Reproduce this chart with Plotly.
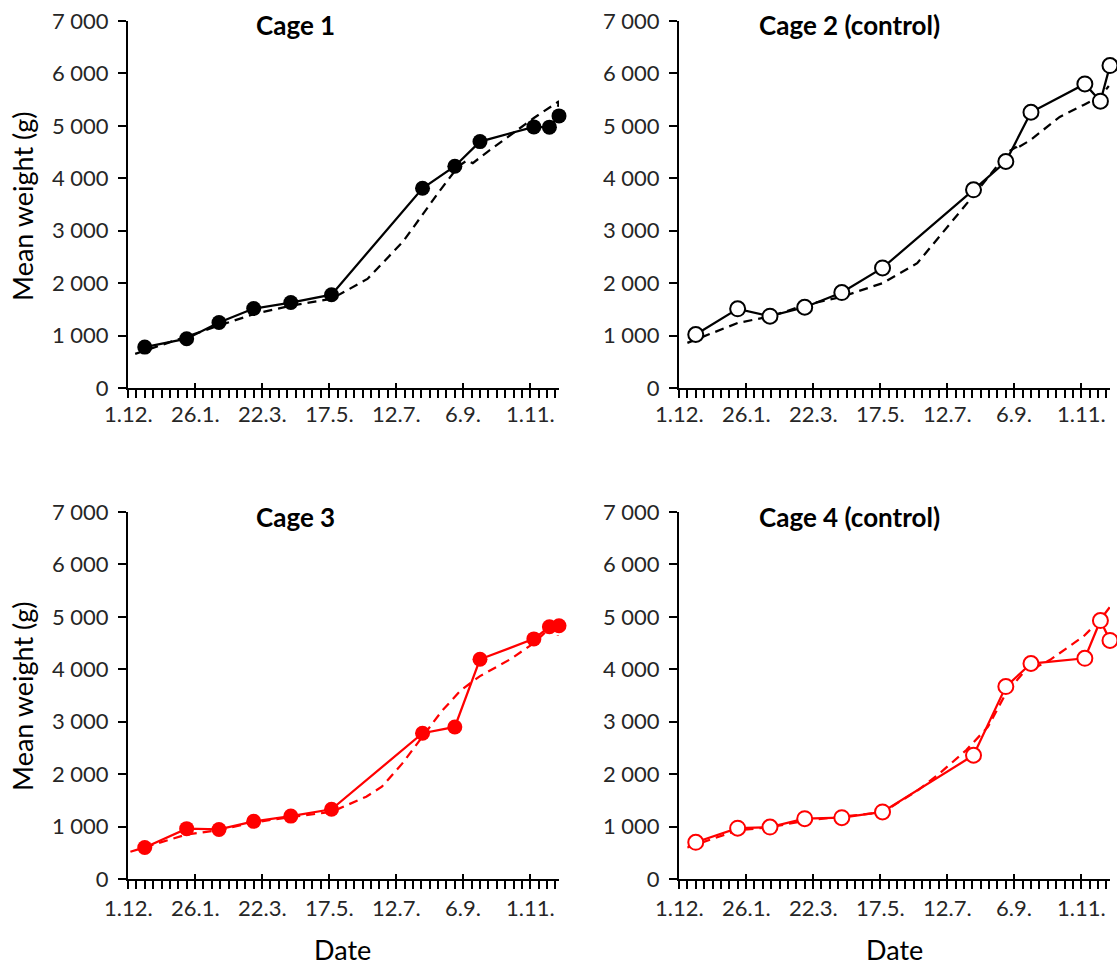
import pandas as pd
import plotly.graph_objects as go

# ---------------- data ----------------
START = "2011-12-01"
tick_days = [0, 56, 112, 168, 224, 280, 336]
tick_text = ["1.12.", "26.1.", "22.3.", "17.5.", "12.7.", "6.9.", "1.11."]
end_day = 360

# measurement days (days after 1.12.)
meas_days = [14, 49, 76, 105, 136, 170, 246, 273, 294, 339, 352, 360]

cage1 = [780, 940, 1250, 1515, 1630, 1780, 3810, 4230, 4700, 4980, 4975, 5190]
cage2 = [1020, 1510, 1370, 1540, 1820, 2290, 3780, 4320, 5260, 5800, 5470, 6150]
cage3 = [600, 960, 945, 1100, 1200, 1330, 2780, 2900, 4190, 4580, 4810, 4830]
cage4 = [700, 970, 990, 1150, 1170, 1280, 2360, 3670, 4110, 4210, 4930, 4550]

# fitted (dashed) curves
fit1_days = [6, 49, 76, 105, 136, 170, 200, 230, 260, 276, 283, 288, 300, 339, 355, 360, 359]
fit1_vals = [650, 990, 1190, 1410, 1570, 1700, 2080, 2800, 3750, 4230, 4340, 4290, 4500, 5150, 5400, 5470, 5350]

fit2_days = [7, 49, 77, 105, 136, 170, 199, 220, 247, 268, 276, 282, 281, 293, 318, 338, 352, 359]
fit2_vals = [860, 1240, 1370, 1580, 1740, 2000, 2380, 2950, 3700, 4300, 4520, 4600, 4560, 4720, 5170, 5400, 5560, 5760]

fit3_days = [2, 49, 76, 105, 136, 170, 199, 212, 229, 246, 262, 278, 294, 320, 339, 352, 360, 359]
fit3_vals = [520, 850, 930, 1080, 1180, 1280, 1570, 1760, 2200, 2720, 3200, 3600, 3870, 4200, 4500, 4780, 4740, 4640]

fit4_days = [7, 49, 77, 105, 136, 170, 200, 217, 240, 258, 273, 290, 296, 294, 310, 338, 352, 360, 361]
fit4_vals = [600, 930, 990, 1110, 1190, 1270, 1700, 2000, 2460, 2900, 3540, 4000, 4060, 3990, 4180, 4630, 4950, 5210, 5220]

titles = ["Cage 1", "Cage 2 (control)", "Cage 3", "Cage 4 (control)"]

# ---------------- helpers ----------------
t0 = pd.Timestamp(START)
def to_dates(days):
    return [(t0 + pd.Timedelta(days=d)).strftime("%Y-%m-%d") for d in days]

W, H = 1117, 966
FONT = "Lato"
TXT = "#262626"

# plot areas in pixels: (left, right, top(7000), bottom(0))
areas = [
    (128, 559, 21, 388),
    (679, 1110, 21, 388),
    (128, 559, 512, 879),
    (679, 1110, 512, 879),
]
# vertical pixel centre of the x tick labels for each panel
xlabel_y = [413, 413, 907, 907]

series = [
    (cage1, fit1_days, fit1_vals, "black", True),
    (cage2, fit2_days, fit2_vals, "black", False),
    (cage3, fit3_days, fit3_vals, "red", True),
    (cage4, fit4_days, fit4_vals, "red", False),
]

fig = go.Figure()
layout = dict(
    width=W, height=H, margin=dict(l=0, r=0, t=0, b=0, autoexpand=False),
    paper_bgcolor="white", plot_bgcolor="white", showlegend=False,
    font=dict(family=FONT, size=22, color=TXT),
)

tickvals = to_dates(tick_days)
rng = [START, to_dates([end_day])[0]]
annos = []

for i, ((l, r, t, b), (vals, fd, fv, col, filled)) in enumerate(zip(areas, series)):
    n = i + 1
    xa = "x" if n == 1 else f"x{n}"
    ya = "y" if n == 1 else f"y{n}"
    xdom = [l / W, r / W]
    ydom = [1 - b / H, 1 - t / H]
    layout[f"xaxis{'' if n == 1 else n}"] = dict(
        domain=xdom, anchor=ya, type="date", range=rng, automargin=False,
        tickmode="array", tickvals=tickvals, showticklabels=False,
        ticks="outside", ticklen=8, tickwidth=2, tickcolor="black",
        showline=True, linecolor="black", linewidth=2,
        showgrid=False, zeroline=False,
        minor=dict(tickmode="linear", tick0=START, dtick=7 * 86400000,
                   ticks="outside", ticklen=8, tickwidth=2, tickcolor="black",
                   showgrid=False),
    )
    layout[f"yaxis{'' if n == 1 else n}"] = dict(
        domain=ydom, anchor=xa, range=[0, 7000], automargin=False,
        tickmode="array", tickvals=list(range(0, 7001, 1000)),
        ticktext=["0"] + [f"{v // 1000} 000" for v in range(1000, 7001, 1000)],
        ticks="outside", ticklen=8, tickwidth=2, tickcolor="black",
        showline=True, linecolor="black", linewidth=2,
        showgrid=False, zeroline=False, ticklabelstandoff=5,
        tickfont=dict(family=FONT, size=22, color=TXT),
    )
    # overlay axis for the inner part of major x ticks
    ov = 10 + n
    layout[f"xaxis{ov}"] = dict(
        domain=xdom, anchor=ya, overlaying=xa, type="date", range=rng, automargin=False,
        tickmode="array", tickvals=tickvals, showticklabels=False,
        ticks="inside", ticklen=5, tickwidth=2, tickcolor="black",
        showline=False, showgrid=False, zeroline=False,
    )
    fig.add_trace(go.Scatter(x=[tickvals[0]], y=[0], xaxis=f"x{ov}", yaxis=ya,
                             mode="markers", marker=dict(opacity=0), hoverinfo="skip"))

    # x tick labels
    for tv, tt in zip(tickvals, tick_text):
        annos.append(dict(text=tt, x=tv, y=1 - xlabel_y[i] / H, xref=xa, yref="paper",
                          showarrow=False, xanchor="center", yanchor="middle",
                          font=dict(family=FONT, size=22, color=TXT)))

    fig.add_trace(go.Scatter(
        x=to_dates(fd), y=fv, xaxis=xa, yaxis=ya, mode="lines",
        line=dict(color=col, width=2.25, dash="9px,6px"), cliponaxis=False,
    ))
    fig.add_trace(go.Scatter(
        x=to_dates(meas_days), y=vals, xaxis=xa, yaxis=ya, mode="lines+markers",
        line=dict(color=col, width=2.25), cliponaxis=False,
        marker=dict(symbol="circle", size=15,
                    color=col if filled else "white",
                    line=dict(color=col, width=0 if filled else 2)),
    ))

fig.update_layout(**layout)

title_pos = [(295, 25), (849, 25), (295, 517), (849, 517)]
for (x, y), ttl in zip(title_pos, titles):
    annos.append(dict(text=f"<b>{ttl}</b>", x=x / W, y=1 - y / H, xref="paper", yref="paper",
                      showarrow=False, xanchor="center", yanchor="middle",
                      font=dict(family=FONT, size=26, color="black")))
for y in (207, 697):
    annos.append(dict(text="Mean weight (g)", x=22 / W, y=1 - y / H, xref="paper", yref="paper",
                      showarrow=False, textangle=-90, xanchor="center", yanchor="middle",
                      font=dict(family=FONT, size=27, color="black")))
for x in (342, 894):
    annos.append(dict(text="Date", x=x / W, y=1 - 949 / H, xref="paper", yref="paper",
                      showarrow=False, xanchor="center", yanchor="middle",
                      font=dict(family=FONT, size=27, color="black")))
fig.update_layout(annotations=annos)

fig.write_html("out.html", config={"displayModeBar": False},
               post_script="document.body.style.margin='0';document.body.style.overflow='hidden';")
